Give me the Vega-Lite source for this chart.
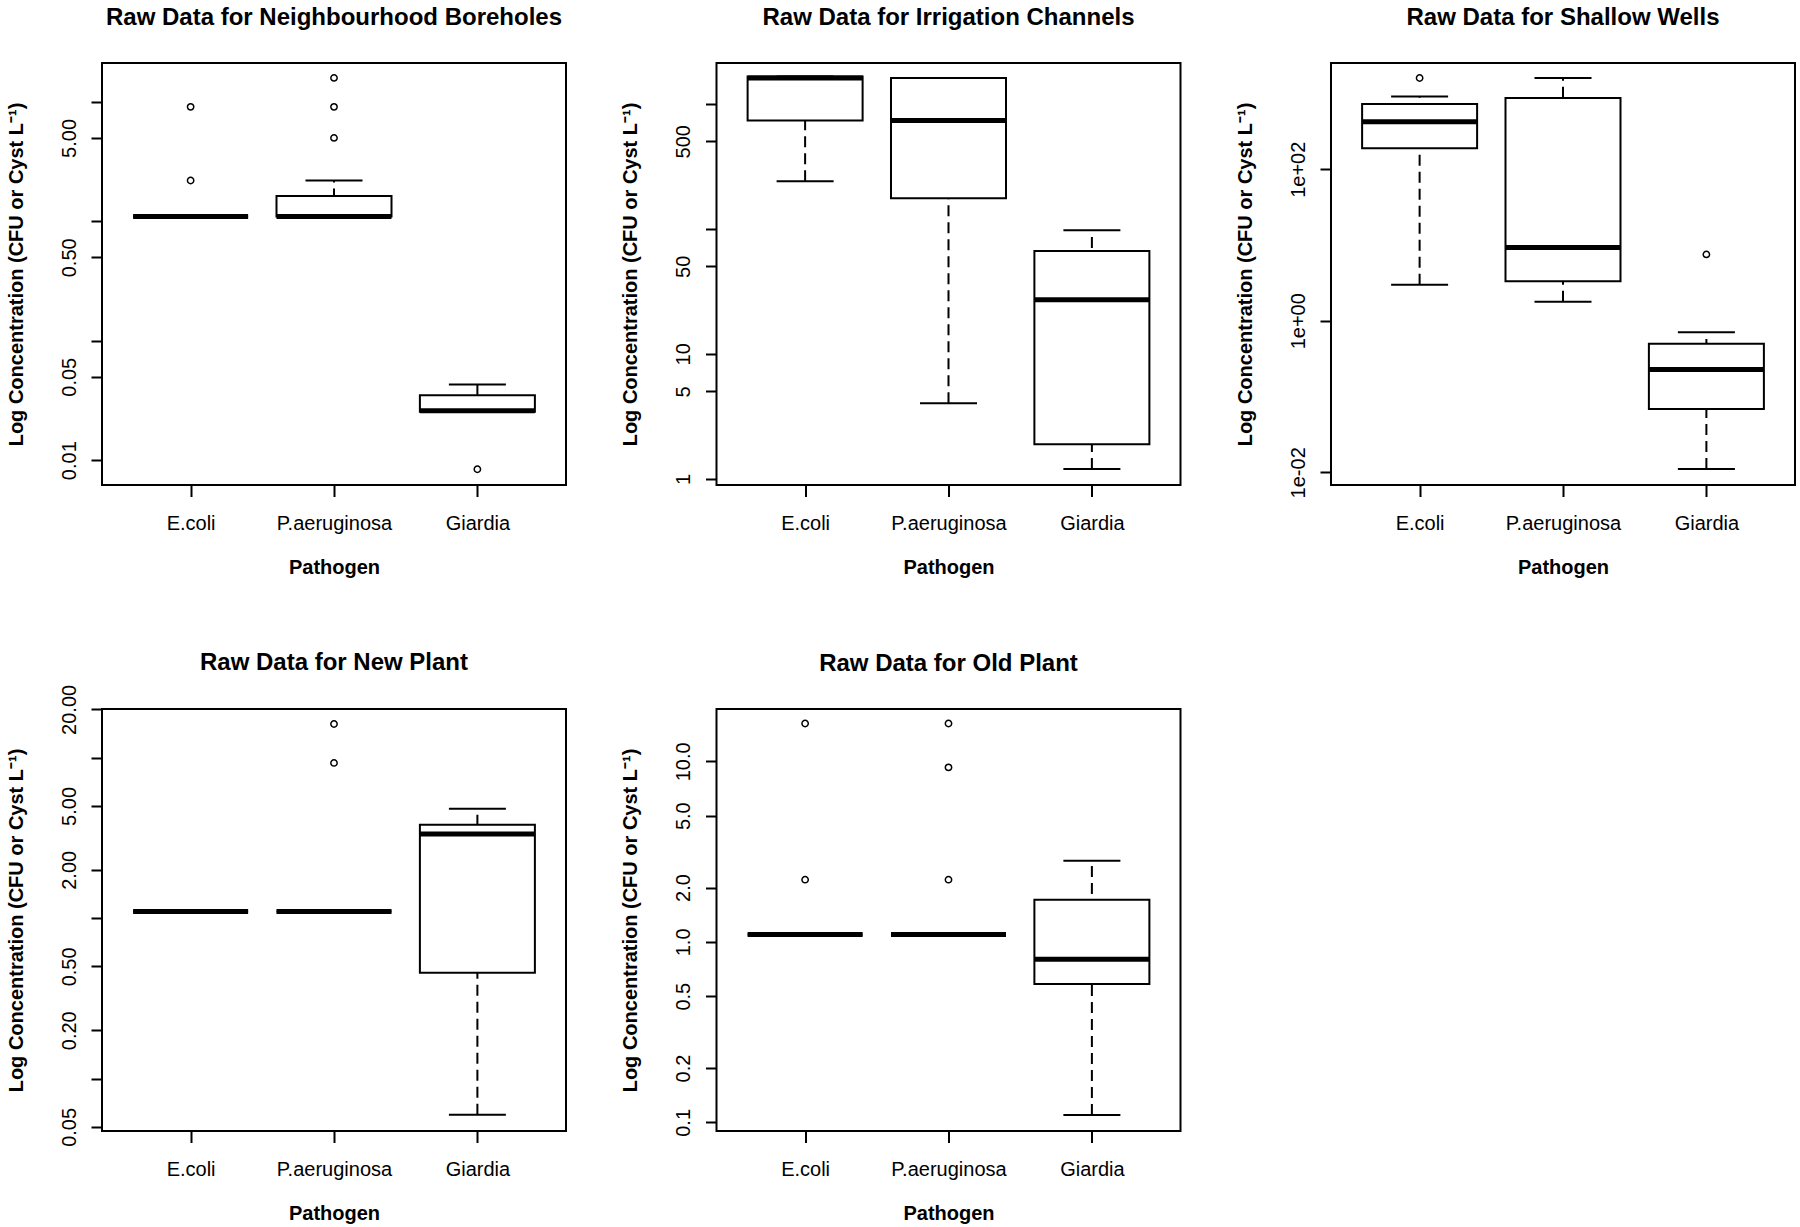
{
  "$schema": "https://vega.github.io/schema/vega-lite/v6.json",
  "background": "white",
  "padding": 5,
  "bounds": "flush",
  "columns": 3,
  "spacing": {"row": 224, "column": 150.5},
  "datasets": {
    "stats": [
      {"site": "Neighbourhood Boreholes", "pathogen": "E.coli", "lo": 1.1, "q1": 1.1, "median": 1.1, "q3": 1.1, "hi": 1.1},
      {"site": "Neighbourhood Boreholes", "pathogen": "P.aeruginosa", "lo": 1.1, "q1": 1.1, "median": 1.1, "q3": 1.63, "hi": 2.2},
      {"site": "Neighbourhood Boreholes", "pathogen": "Giardia", "lo": 0.0255, "q1": 0.0255, "median": 0.026, "q3": 0.035, "hi": 0.043},
      {"site": "Irrigation Channels", "pathogen": "E.coli", "lo": 240, "q1": 733, "median": 1606, "q3": 1651, "hi": 1651},
      {"site": "Irrigation Channels", "pathogen": "P.aeruginosa", "lo": 4.02, "q1": 175, "median": 733, "q3": 1606, "hi": 1606},
      {"site": "Irrigation Channels", "pathogen": "Giardia", "lo": 1.2, "q1": 1.89, "median": 27.1, "q3": 66.4, "hi": 97.2},
      {"site": "Shallow Wells", "pathogen": "E.coli", "lo": 2.99, "q1": 190, "median": 425, "q3": 726, "hi": 916},
      {"site": "Shallow Wells", "pathogen": "P.aeruginosa", "lo": 1.79, "q1": 3.32, "median": 9.27, "q3": 875, "hi": 1603},
      {"site": "Shallow Wells", "pathogen": "Giardia", "lo": 0.0111, "q1": 0.0685, "median": 0.228, "q3": 0.497, "hi": 0.705},
      {"site": "New Plant", "pathogen": "E.coli", "lo": 1.1, "q1": 1.1, "median": 1.1, "q3": 1.1, "hi": 1.1},
      {"site": "New Plant", "pathogen": "P.aeruginosa", "lo": 1.1, "q1": 1.1, "median": 1.1, "q3": 1.1, "hi": 1.1},
      {"site": "New Plant", "pathogen": "Giardia", "lo": 0.0594, "q1": 0.456, "median": 3.34, "q3": 3.82, "hi": 4.81},
      {"site": "Old Plant", "pathogen": "E.coli", "lo": 1.1, "q1": 1.1, "median": 1.1, "q3": 1.1, "hi": 1.1},
      {"site": "Old Plant", "pathogen": "P.aeruginosa", "lo": 1.1, "q1": 1.1, "median": 1.1, "q3": 1.1, "hi": 1.1},
      {"site": "Old Plant", "pathogen": "Giardia", "lo": 0.11, "q1": 0.585, "median": 0.8, "q3": 1.71, "hi": 2.81}
    ],
    "outliers": [
      {"site": "Neighbourhood Boreholes", "pathogen": "E.coli", "value": 2.2},
      {"site": "Neighbourhood Boreholes", "pathogen": "E.coli", "value": 9.1},
      {"site": "Neighbourhood Boreholes", "pathogen": "P.aeruginosa", "value": 5.0},
      {"site": "Neighbourhood Boreholes", "pathogen": "P.aeruginosa", "value": 9.1},
      {"site": "Neighbourhood Boreholes", "pathogen": "P.aeruginosa", "value": 15.9},
      {"site": "Neighbourhood Boreholes", "pathogen": "Giardia", "value": 0.0084},
      {"site": "Shallow Wells", "pathogen": "E.coli", "value": 1603},
      {"site": "Shallow Wells", "pathogen": "Giardia", "value": 7.52},
      {"site": "New Plant", "pathogen": "P.aeruginosa", "value": 9.27},
      {"site": "New Plant", "pathogen": "P.aeruginosa", "value": 16.2},
      {"site": "Old Plant", "pathogen": "E.coli", "value": 2.21},
      {"site": "Old Plant", "pathogen": "E.coli", "value": 16.2},
      {"site": "Old Plant", "pathogen": "P.aeruginosa", "value": 2.21},
      {"site": "Old Plant", "pathogen": "P.aeruginosa", "value": 9.26},
      {"site": "Old Plant", "pathogen": "P.aeruginosa", "value": 16.2}
    ]
  },
  "concat": [
    {
      "title": "Raw Data for Neighbourhood Boreholes",
      "width": 464, "height": 422,
      "data": {"name": "stats"},
      "transform": [{"filter": "datum.site === 'Neighbourhood Boreholes'"}],
      "encoding": {"x": {"field": "pathogen", "type": "nominal", "sort": ["E.coli", "P.aeruginosa", "Giardia"], "scale": {"type": "point", "padding": 0.618, "domain": ["E.coli", "P.aeruginosa", "Giardia"]}, "axis": {"title": "Pathogen"}}},
      "layer": [
        {"mark": {"type": "rule", "strokeDash": [11, 6], "strokeWidth": 2, "color": "black"},
         "encoding": {"y": {"field": "lo", "type": "quantitative", "scale": {"type": "log", "domain": [0.0062, 21.2], "nice": false},
           "axis": {"title": "Log Concentration (CFU or Cyst L⁻¹)", "values": [0.01, 0.05, 0.1, 0.5, 1, 5, 10], "labelExpr": "datum.value === 0.01 ? '0.01' : datum.value === 0.05 ? '0.05' : datum.value === 0.5 ? '0.50' : datum.value === 5 ? '5.00' : ''"}},
           "y2": {"field": "hi"}}},
        {"mark": {"type": "tick", "size": 57, "thickness": 2, "color": "black", "opacity": 1},
         "encoding": {"y": {"field": "lo", "type": "quantitative", "scale": {"type": "log", "domain": [0.0062, 21.2], "nice": false},
           "axis": {"title": "Log Concentration (CFU or Cyst L⁻¹)", "values": [0.01, 0.05, 0.1, 0.5, 1, 5, 10], "labelExpr": "datum.value === 0.01 ? '0.01' : datum.value === 0.05 ? '0.05' : datum.value === 0.5 ? '0.50' : datum.value === 5 ? '5.00' : ''"}}}},
        {"mark": {"type": "tick", "size": 57, "thickness": 2, "color": "black", "opacity": 1},
         "encoding": {"y": {"field": "hi", "type": "quantitative", "scale": {"type": "log", "domain": [0.0062, 21.2], "nice": false},
           "axis": {"title": "Log Concentration (CFU or Cyst L⁻¹)", "values": [0.01, 0.05, 0.1, 0.5, 1, 5, 10], "labelExpr": "datum.value === 0.01 ? '0.01' : datum.value === 0.05 ? '0.05' : datum.value === 0.5 ? '0.50' : datum.value === 5 ? '5.00' : ''"}}}},
        {"mark": {"type": "bar", "size": 115, "fill": "white", "stroke": "black", "strokeWidth": 2},
         "encoding": {"y": {"field": "q1", "type": "quantitative", "scale": {"type": "log", "domain": [0.0062, 21.2], "nice": false},
           "axis": {"title": "Log Concentration (CFU or Cyst L⁻¹)", "values": [0.01, 0.05, 0.1, 0.5, 1, 5, 10], "labelExpr": "datum.value === 0.01 ? '0.01' : datum.value === 0.05 ? '0.05' : datum.value === 0.5 ? '0.50' : datum.value === 5 ? '5.00' : ''"}}, "y2": {"field": "q3"}}},
        {"mark": {"type": "tick", "size": 115, "thickness": 5, "color": "black", "opacity": 1},
         "encoding": {"y": {"field": "median", "type": "quantitative", "scale": {"type": "log", "domain": [0.0062, 21.2], "nice": false},
           "axis": {"title": "Log Concentration (CFU or Cyst L⁻¹)", "values": [0.01, 0.05, 0.1, 0.5, 1, 5, 10], "labelExpr": "datum.value === 0.01 ? '0.01' : datum.value === 0.05 ? '0.05' : datum.value === 0.5 ? '0.50' : datum.value === 5 ? '5.00' : ''"}}}},
        {"data": {"name": "outliers"}, "transform": [{"filter": "datum.site === 'Neighbourhood Boreholes'"}],
         "mark": {"type": "point", "shape": "circle", "filled": false, "size": 40, "strokeWidth": 1.5, "color": "black", "opacity": 1},
         "encoding": {"y": {"field": "value", "type": "quantitative", "scale": {"type": "log", "domain": [0.0062, 21.2], "nice": false},
           "axis": {"title": "Log Concentration (CFU or Cyst L⁻¹)", "values": [0.01, 0.05, 0.1, 0.5, 1, 5, 10], "labelExpr": "datum.value === 0.01 ? '0.01' : datum.value === 0.05 ? '0.05' : datum.value === 0.5 ? '0.50' : datum.value === 5 ? '5.00' : ''"}}}}
      ]
    },
    {
      "title": "Raw Data for Irrigation Channels",
      "width": 464, "height": 422,
      "data": {"name": "stats"},
      "transform": [{"filter": "datum.site === 'Irrigation Channels'"}],
      "encoding": {"x": {"field": "pathogen", "type": "nominal", "sort": ["E.coli", "P.aeruginosa", "Giardia"], "scale": {"type": "point", "padding": 0.618, "domain": ["E.coli", "P.aeruginosa", "Giardia"]}, "axis": {"title": "Pathogen"}}},
      "layer": [
        {"mark": {"type": "rule", "strokeDash": [11, 6], "strokeWidth": 2, "color": "black"},
         "encoding": {"y": {"field": "lo", "type": "quantitative", "scale": {"type": "log", "domain": [0.893, 2114], "nice": false},
           "axis": {"title": "Log Concentration (CFU or Cyst L⁻¹)", "values": [1, 5, 10, 50, 100, 500, 1000], "labelExpr": "datum.value === 100 || datum.value === 1000 ? '' : format(datum.value, 'd')"}},
           "y2": {"field": "hi"}}},
        {"mark": {"type": "tick", "size": 57, "thickness": 2, "color": "black", "opacity": 1},
         "encoding": {"y": {"field": "lo", "type": "quantitative", "scale": {"type": "log", "domain": [0.893, 2114], "nice": false},
           "axis": {"title": "Log Concentration (CFU or Cyst L⁻¹)", "values": [1, 5, 10, 50, 100, 500, 1000], "labelExpr": "datum.value === 100 || datum.value === 1000 ? '' : format(datum.value, 'd')"}}}},
        {"mark": {"type": "tick", "size": 57, "thickness": 2, "color": "black", "opacity": 1},
         "encoding": {"y": {"field": "hi", "type": "quantitative", "scale": {"type": "log", "domain": [0.893, 2114], "nice": false},
           "axis": {"title": "Log Concentration (CFU or Cyst L⁻¹)", "values": [1, 5, 10, 50, 100, 500, 1000], "labelExpr": "datum.value === 100 || datum.value === 1000 ? '' : format(datum.value, 'd')"}}}},
        {"mark": {"type": "bar", "size": 115, "fill": "white", "stroke": "black", "strokeWidth": 2},
         "encoding": {"y": {"field": "q1", "type": "quantitative", "scale": {"type": "log", "domain": [0.893, 2114], "nice": false},
           "axis": {"title": "Log Concentration (CFU or Cyst L⁻¹)", "values": [1, 5, 10, 50, 100, 500, 1000], "labelExpr": "datum.value === 100 || datum.value === 1000 ? '' : format(datum.value, 'd')"}}, "y2": {"field": "q3"}}},
        {"mark": {"type": "tick", "size": 115, "thickness": 5, "color": "black", "opacity": 1},
         "encoding": {"y": {"field": "median", "type": "quantitative", "scale": {"type": "log", "domain": [0.893, 2114], "nice": false},
           "axis": {"title": "Log Concentration (CFU or Cyst L⁻¹)", "values": [1, 5, 10, 50, 100, 500, 1000], "labelExpr": "datum.value === 100 || datum.value === 1000 ? '' : format(datum.value, 'd')"}}}}
      ]
    },
    {
      "title": "Raw Data for Shallow Wells",
      "width": 464, "height": 422,
      "data": {"name": "stats"},
      "transform": [{"filter": "datum.site === 'Shallow Wells'"}],
      "encoding": {"x": {"field": "pathogen", "type": "nominal", "sort": ["E.coli", "P.aeruginosa", "Giardia"], "scale": {"type": "point", "padding": 0.618, "domain": ["E.coli", "P.aeruginosa", "Giardia"]}, "axis": {"title": "Pathogen"}}},
      "layer": [
        {"mark": {"type": "rule", "strokeDash": [11, 6], "strokeWidth": 2, "color": "black"},
         "encoding": {"y": {"field": "lo", "type": "quantitative", "scale": {"type": "log", "domain": [0.0068, 2528], "nice": false},
           "axis": {"title": "Log Concentration (CFU or Cyst L⁻¹)", "values": [0.01, 1, 100], "labelExpr": "datum.value === 0.01 ? '1e-02' : datum.value === 1 ? '1e+00' : '1e+02'"}},
           "y2": {"field": "hi"}}},
        {"mark": {"type": "tick", "size": 57, "thickness": 2, "color": "black", "opacity": 1},
         "encoding": {"y": {"field": "lo", "type": "quantitative", "scale": {"type": "log", "domain": [0.0068, 2528], "nice": false},
           "axis": {"title": "Log Concentration (CFU or Cyst L⁻¹)", "values": [0.01, 1, 100], "labelExpr": "datum.value === 0.01 ? '1e-02' : datum.value === 1 ? '1e+00' : '1e+02'"}}}},
        {"mark": {"type": "tick", "size": 57, "thickness": 2, "color": "black", "opacity": 1},
         "encoding": {"y": {"field": "hi", "type": "quantitative", "scale": {"type": "log", "domain": [0.0068, 2528], "nice": false},
           "axis": {"title": "Log Concentration (CFU or Cyst L⁻¹)", "values": [0.01, 1, 100], "labelExpr": "datum.value === 0.01 ? '1e-02' : datum.value === 1 ? '1e+00' : '1e+02'"}}}},
        {"mark": {"type": "bar", "size": 115, "fill": "white", "stroke": "black", "strokeWidth": 2},
         "encoding": {"y": {"field": "q1", "type": "quantitative", "scale": {"type": "log", "domain": [0.0068, 2528], "nice": false},
           "axis": {"title": "Log Concentration (CFU or Cyst L⁻¹)", "values": [0.01, 1, 100], "labelExpr": "datum.value === 0.01 ? '1e-02' : datum.value === 1 ? '1e+00' : '1e+02'"}}, "y2": {"field": "q3"}}},
        {"mark": {"type": "tick", "size": 115, "thickness": 5, "color": "black", "opacity": 1},
         "encoding": {"y": {"field": "median", "type": "quantitative", "scale": {"type": "log", "domain": [0.0068, 2528], "nice": false},
           "axis": {"title": "Log Concentration (CFU or Cyst L⁻¹)", "values": [0.01, 1, 100], "labelExpr": "datum.value === 0.01 ? '1e-02' : datum.value === 1 ? '1e+00' : '1e+02'"}}}},
        {"data": {"name": "outliers"}, "transform": [{"filter": "datum.site === 'Shallow Wells'"}],
         "mark": {"type": "point", "shape": "circle", "filled": false, "size": 40, "strokeWidth": 1.5, "color": "black", "opacity": 1},
         "encoding": {"y": {"field": "value", "type": "quantitative", "scale": {"type": "log", "domain": [0.0068, 2528], "nice": false},
           "axis": {"title": "Log Concentration (CFU or Cyst L⁻¹)", "values": [0.01, 1, 100], "labelExpr": "datum.value === 0.01 ? '1e-02' : datum.value === 1 ? '1e+00' : '1e+02'"}}}}
      ]
    },
    {
      "title": {"text": "Raw Data for New Plant", "offset": 9},
      "width": 464, "height": 422,
      "data": {"name": "stats"},
      "transform": [{"filter": "datum.site === 'New Plant'"}],
      "encoding": {"x": {"field": "pathogen", "type": "nominal", "sort": ["E.coli", "P.aeruginosa", "Giardia"], "scale": {"type": "point", "padding": 0.618, "domain": ["E.coli", "P.aeruginosa", "Giardia"]}, "axis": {"title": "Pathogen"}}},
      "layer": [
        {"mark": {"type": "rule", "strokeDash": [11, 6], "strokeWidth": 2, "color": "black"},
         "encoding": {"y": {"field": "lo", "type": "quantitative", "scale": {"type": "log", "domain": [0.0471, 20.1], "nice": false},
           "axis": {"title": "Log Concentration (CFU or Cyst L⁻¹)", "values": [0.05, 0.1, 0.2, 0.5, 1, 2, 5, 10, 20], "labelExpr": "datum.value === 0.1 || datum.value === 1 || datum.value === 10 ? '' : format(datum.value, '.2f')"}},
           "y2": {"field": "hi"}}},
        {"mark": {"type": "tick", "size": 57, "thickness": 2, "color": "black", "opacity": 1},
         "encoding": {"y": {"field": "lo", "type": "quantitative", "scale": {"type": "log", "domain": [0.0471, 20.1], "nice": false},
           "axis": {"title": "Log Concentration (CFU or Cyst L⁻¹)", "values": [0.05, 0.1, 0.2, 0.5, 1, 2, 5, 10, 20], "labelExpr": "datum.value === 0.1 || datum.value === 1 || datum.value === 10 ? '' : format(datum.value, '.2f')"}}}},
        {"mark": {"type": "tick", "size": 57, "thickness": 2, "color": "black", "opacity": 1},
         "encoding": {"y": {"field": "hi", "type": "quantitative", "scale": {"type": "log", "domain": [0.0471, 20.1], "nice": false},
           "axis": {"title": "Log Concentration (CFU or Cyst L⁻¹)", "values": [0.05, 0.1, 0.2, 0.5, 1, 2, 5, 10, 20], "labelExpr": "datum.value === 0.1 || datum.value === 1 || datum.value === 10 ? '' : format(datum.value, '.2f')"}}}},
        {"mark": {"type": "bar", "size": 115, "fill": "white", "stroke": "black", "strokeWidth": 2},
         "encoding": {"y": {"field": "q1", "type": "quantitative", "scale": {"type": "log", "domain": [0.0471, 20.1], "nice": false},
           "axis": {"title": "Log Concentration (CFU or Cyst L⁻¹)", "values": [0.05, 0.1, 0.2, 0.5, 1, 2, 5, 10, 20], "labelExpr": "datum.value === 0.1 || datum.value === 1 || datum.value === 10 ? '' : format(datum.value, '.2f')"}}, "y2": {"field": "q3"}}},
        {"mark": {"type": "tick", "size": 115, "thickness": 5, "color": "black", "opacity": 1},
         "encoding": {"y": {"field": "median", "type": "quantitative", "scale": {"type": "log", "domain": [0.0471, 20.1], "nice": false},
           "axis": {"title": "Log Concentration (CFU or Cyst L⁻¹)", "values": [0.05, 0.1, 0.2, 0.5, 1, 2, 5, 10, 20], "labelExpr": "datum.value === 0.1 || datum.value === 1 || datum.value === 10 ? '' : format(datum.value, '.2f')"}}}},
        {"data": {"name": "outliers"}, "transform": [{"filter": "datum.site === 'New Plant'"}],
         "mark": {"type": "point", "shape": "circle", "filled": false, "size": 40, "strokeWidth": 1.5, "color": "black", "opacity": 1},
         "encoding": {"y": {"field": "value", "type": "quantitative", "scale": {"type": "log", "domain": [0.0471, 20.1], "nice": false},
           "axis": {"title": "Log Concentration (CFU or Cyst L⁻¹)", "values": [0.05, 0.1, 0.2, 0.5, 1, 2, 5, 10, 20], "labelExpr": "datum.value === 0.1 || datum.value === 1 || datum.value === 10 ? '' : format(datum.value, '.2f')"}}}}
      ]
    },
    {
      "title": "Raw Data for Old Plant",
      "width": 464, "height": 422,
      "data": {"name": "stats"},
      "transform": [{"filter": "datum.site === 'Old Plant'"}],
      "encoding": {"x": {"field": "pathogen", "type": "nominal", "sort": ["E.coli", "P.aeruginosa", "Giardia"], "scale": {"type": "point", "padding": 0.618, "domain": ["E.coli", "P.aeruginosa", "Giardia"]}, "axis": {"title": "Pathogen"}}},
      "layer": [
        {"mark": {"type": "rule", "strokeDash": [11, 6], "strokeWidth": 2, "color": "black"},
         "encoding": {"y": {"field": "lo", "type": "quantitative", "scale": {"type": "log", "domain": [0.0896, 19.5], "nice": false},
           "axis": {"title": "Log Concentration (CFU or Cyst L⁻¹)", "values": [0.1, 0.2, 0.5, 1, 2, 5, 10], "labelExpr": "format(datum.value, '.1f')"}},
           "y2": {"field": "hi"}}},
        {"mark": {"type": "tick", "size": 57, "thickness": 2, "color": "black", "opacity": 1},
         "encoding": {"y": {"field": "lo", "type": "quantitative", "scale": {"type": "log", "domain": [0.0896, 19.5], "nice": false},
           "axis": {"title": "Log Concentration (CFU or Cyst L⁻¹)", "values": [0.1, 0.2, 0.5, 1, 2, 5, 10], "labelExpr": "format(datum.value, '.1f')"}}}},
        {"mark": {"type": "tick", "size": 57, "thickness": 2, "color": "black", "opacity": 1},
         "encoding": {"y": {"field": "hi", "type": "quantitative", "scale": {"type": "log", "domain": [0.0896, 19.5], "nice": false},
           "axis": {"title": "Log Concentration (CFU or Cyst L⁻¹)", "values": [0.1, 0.2, 0.5, 1, 2, 5, 10], "labelExpr": "format(datum.value, '.1f')"}}}},
        {"mark": {"type": "bar", "size": 115, "fill": "white", "stroke": "black", "strokeWidth": 2},
         "encoding": {"y": {"field": "q1", "type": "quantitative", "scale": {"type": "log", "domain": [0.0896, 19.5], "nice": false},
           "axis": {"title": "Log Concentration (CFU or Cyst L⁻¹)", "values": [0.1, 0.2, 0.5, 1, 2, 5, 10], "labelExpr": "format(datum.value, '.1f')"}}, "y2": {"field": "q3"}}},
        {"mark": {"type": "tick", "size": 115, "thickness": 5, "color": "black", "opacity": 1},
         "encoding": {"y": {"field": "median", "type": "quantitative", "scale": {"type": "log", "domain": [0.0896, 19.5], "nice": false},
           "axis": {"title": "Log Concentration (CFU or Cyst L⁻¹)", "values": [0.1, 0.2, 0.5, 1, 2, 5, 10], "labelExpr": "format(datum.value, '.1f')"}}}},
        {"data": {"name": "outliers"}, "transform": [{"filter": "datum.site === 'Old Plant'"}],
         "mark": {"type": "point", "shape": "circle", "filled": false, "size": 40, "strokeWidth": 1.5, "color": "black", "opacity": 1},
         "encoding": {"y": {"field": "value", "type": "quantitative", "scale": {"type": "log", "domain": [0.0896, 19.5], "nice": false},
           "axis": {"title": "Log Concentration (CFU or Cyst L⁻¹)", "values": [0.1, 0.2, 0.5, 1, 2, 5, 10], "labelExpr": "format(datum.value, '.1f')"}}}}
      ]
    }
  ],
  "config": {
    "font": "Liberation Sans",
    "view": {"stroke": "black", "strokeWidth": 2},
    "title": {"fontSize": 24, "fontWeight": "bold", "font": "Liberation Sans", "color": "black", "offset": 33, "baseline": "alphabetic", "anchor": "middle"},
    "axis": {"domain": false, "grid": false, "tickColor": "black", "tickWidth": 2, "labelColor": "black", "labelFontSize": 20, "labelFont": "Liberation Sans", "titleFont": "Liberation Sans", "titleFontSize": 20, "titleFontWeight": "bold", "titleColor": "black", "labelOverlap": false, "labelFlush": false},
    "axisX": {"tickSize": 11.5, "labelPadding": 16.5, "titlePadding": 24, "labelAngle": 0},
    "axisY": {"tickSize": 11, "labelAngle": -90, "labelPadding": 12, "titlePadding": 33}
  }
}
